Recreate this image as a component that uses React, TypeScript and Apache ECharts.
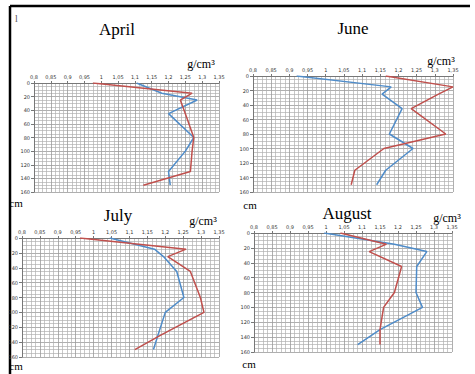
import React, { useEffect, useRef } from "react";
import * as echarts from "echarts";

const depths = [0, 15, 25, 45, 80, 100, 130, 150];
const monthNames = ["April", "June", "July", "August"];
const aprilBlue = [1.105, 1.18, 1.285, 1.2, 1.275, 1.25, 1.2, 1.205];
const aprilRed = [0.975, 1.27, 1.235, 1.25, 1.275, 1.27, 1.265, 1.125];
const juneBlue = [0.92, 1.18, 1.155, 1.21, 1.175, 1.24, 1.165, 1.14];
const juneRed = [1.165, 1.35, 1.31, 1.235, 1.33, 1.16, 1.08, 1.07];
const julyBlue = [1.045, 1.17, 1.195, 1.232, 1.252, 1.2, 1.18, 1.167];
const julyRed = [0.962, 1.258, 1.207, 1.27, 1.298, 1.308, 1.19, 1.115];
const augustBlue = [0.995, 1.19, 1.28, 1.252, 1.25, 1.268, 1.15, 1.088];
const augustRed = [1.04, 1.168, 1.12, 1.21, 1.19, 1.16, 1.15, 1.15];
const densityMin = 0.8;
const densityMax = 1.35;
const densityStep = 0.05;
const depthMin = 0;
const depthMax = 160;
const depthStep = 20;
const unitX = "g/cm³";
const unitY = "cm";

const panelData = [
  [aprilBlue, aprilRed],
  [juneBlue, juneRed],
  [julyBlue, julyRed],
  [augustBlue, augustRed],
];

// layout (pixels)
const grids = [
  { left: 34, top: 83, width: 185, height: 109 },
  { left: 253, top: 76, width: 200, height: 116 },
  { left: 22, top: 238, width: 197, height: 119 },
  { left: 254, top: 233, width: 198, height: 119 },
];
const titlePos = [
  [117, 29],
  [353, 28],
  [118, 215],
  [347, 213],
];
const unitXPos = [
  [201, 64],
  [441, 61],
  [203, 221],
  [447, 218],
];
const unitYPos = [
  [16, 203],
  [250, 205],
  [16, 366],
  [249, 364],
];

const BLUE = "#4F8CC9";
const RED = "#C0504D";
const SERIF = "'Liberation Serif', 'DejaVu Serif', serif";

function fmt(v: number) {
  const r = Math.round(v * 100) / 100;
  return String(r).replace(".", ",");
}

export default function App() {
  const ref = useRef<HTMLDivElement>(null);
  useEffect(() => {
    document.body.style.margin = "0";
    const chart = echarts.init(ref.current!, null, { renderer: "svg" });
    const xAxis: any[] = [];
    const yAxis: any[] = [];
    const series: any[] = [];
    grids.forEach((g, i) => {
      xAxis.push({
        type: "value",
        gridIndex: i,
        position: "top",
        min: densityMin,
        max: densityMax,
        interval: densityStep,
        axisLine: { show: true, onZero: false, lineStyle: { color: "#777", width: 1 } },
        axisTick: { show: true, length: 2, lineStyle: { color: "#777" } },
        axisLabel: {
          fontSize: 5,
          color: "#333",
          margin: 4,
          fontFamily: "DejaVu Sans",
          formatter: (v: number) => fmt(v),
        },
        splitLine: { show: true, lineStyle: { color: "#9a9a9a", width: 0.8 } },
        minorTick: { show: false, splitNumber: 4 },
        minorSplitLine: { show: true, lineStyle: { color: "#b0b0b0", width: 0.7 } },
      });
      yAxis.push({
        type: "value",
        gridIndex: i,
        inverse: true,
        min: depthMin,
        max: depthMax,
        interval: depthStep,
        axisLine: { show: true, onZero: false, lineStyle: { color: "#777", width: 1 } },
        axisTick: { show: true, length: 3, lineStyle: { color: "#777" } },
        axisLabel: {
          fontSize: 5,
          color: "#333",
          margin: 4,
          fontFamily: "DejaVu Sans",
        },
        splitLine: { show: true, lineStyle: { color: "#9a9a9a", width: 0.8 } },
        minorTick: { show: false, splitNumber: 4 },
        minorSplitLine: { show: true, lineStyle: { color: "#b0b0b0", width: 0.7 } },
      });
      const [blue, red] = panelData[i];
      series.push({
        type: "line",
        xAxisIndex: i,
        yAxisIndex: i,
        name: monthNames[i] + " 1",
        data: blue.map((v, k) => [v, depths[k]]),
        showSymbol: false,
        symbol: "none",
        lineStyle: { color: BLUE, width: 1.5 },
        itemStyle: { color: BLUE },
        z: 3,
      });
      series.push({
        type: "line",
        xAxisIndex: i,
        yAxisIndex: i,
        name: monthNames[i] + " 2",
        data: red.map((v, k) => [v, depths[k]]),
        showSymbol: false,
        symbol: "none",
        lineStyle: { color: RED, width: 1.5 },
        itemStyle: { color: RED },
        z: 4,
      });
    });

    const graphic: any[] = [
      { type: "line", shape: { x1: 10, y1: 6, x2: 470, y2: 6 }, style: { stroke: "#000", lineWidth: 2.5 } },
      { type: "line", shape: { x1: 10, y1: 6, x2: 10, y2: 374 }, style: { stroke: "#000", lineWidth: 2.5 } },
      {
        type: "text",
        x: 15,
        y: 13,
        style: { text: "l", font: `10px ${SERIF}`, fill: "#555" },
      },
    ];
    monthNames.forEach((m, i) => {
      graphic.push({
        type: "text",
        x: titlePos[i][0],
        y: titlePos[i][1],
        style: { text: m, font: `17px ${SERIF}`, fill: "#000", align: "center", verticalAlign: "middle" },
      });
      graphic.push({
        type: "text",
        x: unitXPos[i][0],
        y: unitXPos[i][1],
        style: { text: unitX, font: `12px ${SERIF}`, fill: "#000", align: "center", verticalAlign: "middle" },
      });
      graphic.push({
        type: "text",
        x: unitYPos[i][0],
        y: unitYPos[i][1],
        style: { text: unitY, font: `11px ${SERIF}`, fill: "#000", align: "center", verticalAlign: "middle" },
      });
    });

    chart.setOption({
      animation: false,
      backgroundColor: "#fff",
      grid: grids.map((g) => ({ ...g, containLabel: false })),
      xAxis,
      yAxis,
      series,
      graphic,
    });
    return () => chart.dispose();
  }, []);
  return (
    <div
      ref={ref}
      style={{ position: "absolute", left: 0, top: 0, width: 475, height: 374 }}
    />
  );
}
